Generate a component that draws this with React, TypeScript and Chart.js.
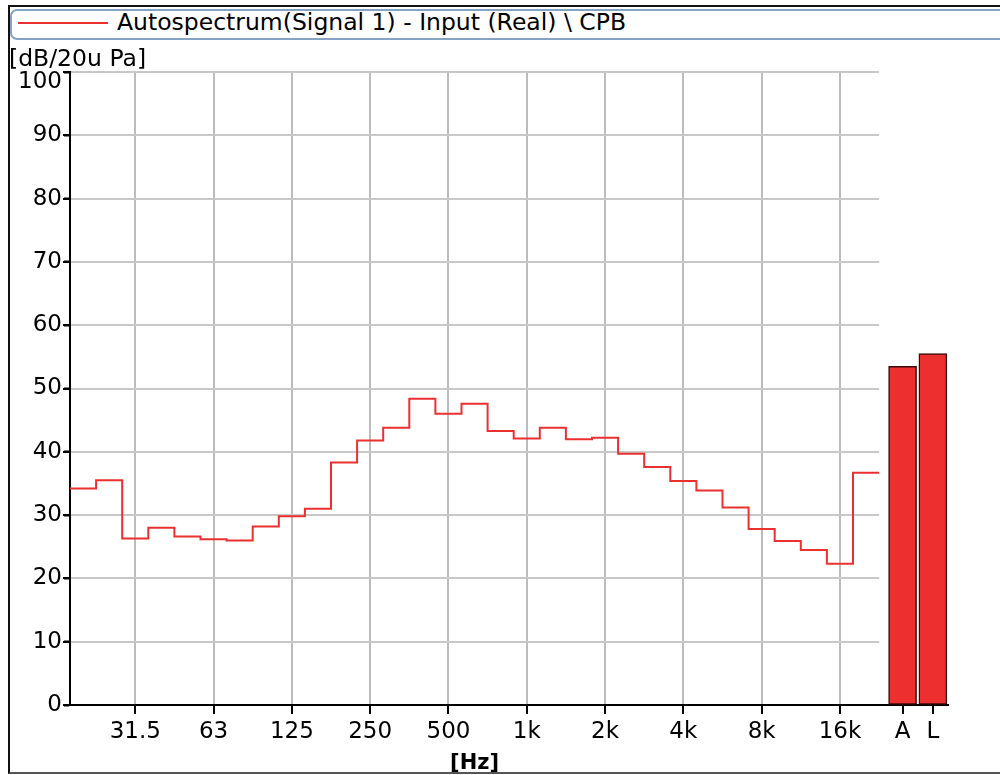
import React, { useEffect, useRef } from 'react';
import { Chart, registerables } from 'chart.js';

Chart.register(...registerables);

// 1/3-octave band centre frequencies (labels) and their levels [dB re 20 uPa]
const bandLabels = ['20', '25', '31.5', '40', '50', '63', '80', '100', '125', '160', '200', '250', '315', '400', '500', '630', '800', '1k', '1.25k', '1.6k', '2k', '2.5k', '3.15k', '4k', '5k', '6.3k', '8k', '10k', '12.5k', '16k', '20k'];
const bandLevels = [34.2, 35.5, 26.3, 28.0, 26.6, 26.2, 26.0, 28.2, 29.8, 31.0, 38.3, 41.8, 43.8, 48.4, 46.0, 47.6, 43.3, 42.1, 43.8, 42.0, 42.2, 39.7, 37.6, 35.4, 33.9, 31.2, 27.8, 25.9, 24.5, 22.3, 36.7];

// octave tick labels shown on the frequency axis
const tickLabels = ['31.5', '63', '125', '250', '500', '1k', '2k', '4k', '8k', '16k'];

// overall (summary) bars
const summaryLabels = ['A', 'L'];
const summaryLevels = [53.5, 55.5];

const yTickValues = [0, 10, 20, 30, 40, 50, 60, 70, 80, 90, 100];

const legendText = 'Autospectrum(Signal 1) - Input (Real) \\ CPB';
const yTitle = '[dB/20u Pa]';
const xTitle = '[Hz]';

const FONT = "'DejaVu Sans', Verdana, sans-serif";
const RED = '#ec3030';

export default function App() {
  const canvasRef = useRef<HTMLCanvasElement | null>(null);

  useEffect(() => {
    const canvas = canvasRef.current;
    if (!canvas) return;
    const nBands = bandLabels.length;
    const summaryStart = nBands + 0.9;
    const summaryStep = 1.16;
    const tickPositions = [
      ...tickLabels.map((l) => bandLabels.indexOf(l) + 0.5),
      ...summaryLabels.map((_, i) => summaryStart + i * summaryStep),
    ];
    const allTickLabels = [...tickLabels, ...summaryLabels];
    const yMax = yTickValues[yTickValues.length - 1];

    const stepPoints = bandLevels.map((v, i) => ({ x: i, y: v }));
    stepPoints.push({ x: nBands, y: bandLevels[nBands - 1] });

    const barPoints = summaryLevels.map((v, i) => ({ x: summaryStart + i * summaryStep, y: v }));

    const overlay = {
      id: 'overlay',
      beforeDatasetsDraw(chart: any) {
        const { ctx, scales } = chart;
        const xs = scales.x;
        const ys = scales.y;
        const x0 = xs.getPixelForValue(0) + 1;
        const x1 = xs.getPixelForValue(nBands);
        ctx.save();
        ctx.strokeStyle = '#c8c8c8';
        ctx.lineWidth = 2;
        yTickValues.forEach((v) => {
          if (v === 0) return;
          const y = Math.round(ys.getPixelForValue(v));
          ctx.beginPath();
          ctx.moveTo(x0, y);
          ctx.lineTo(x1, y);
          ctx.stroke();
        });
        ctx.restore();
      },
      afterDraw(chart: any) {
        const { ctx, scales, chartArea } = chart;
        const xs = scales.x;
        const ys = scales.y;
        ctx.save();
        // tick marks
        ctx.fillStyle = '#000';
        tickPositions.forEach((v) => {
          const px = Math.round(xs.getPixelForValue(v));
          ctx.fillRect(px - 1, chartArea.bottom, 2, 9);
        });
        yTickValues.forEach((v) => {
          const py = Math.round(ys.getPixelForValue(v));
          ctx.fillRect(chartArea.left - 7, py - 1, 7, 2);
        });
        // top tick label kept inside the plot height
        ctx.font = `23px ${FONT}`;
        ctx.textAlign = 'right';
        ctx.textBaseline = 'top';
        ctx.fillText(String(yMax), chartArea.left - 8, ys.getPixelForValue(yMax) - 1);
        // axis titles
        ctx.textBaseline = 'alphabetic';
        ctx.font = `23.5px ${FONT}`;
        ctx.textAlign = 'left';
        ctx.fillText(yTitle, 9, 66);
        ctx.font = `bold 21px ${FONT}`;
        ctx.textAlign = 'center';
        const cx = (xs.getPixelForValue(0) + xs.getPixelForValue(nBands)) / 2;
        ctx.fillText(xTitle, cx, 769);
        ctx.restore();
      },
    };

    const chart = new Chart(canvas, {
      type: 'bar',
      data: {
        datasets: [
          {
            type: 'line',
            label: legendText,
            data: stepPoints,
            stepped: true,
            borderColor: RED,
            borderWidth: 2,
            pointRadius: 0,
            fill: false,
          } as any,
          {
            type: 'bar',
            label: 'Overall',
            data: barPoints,
            backgroundColor: RED,
            borderColor: '#3a0a0a',
            borderWidth: 1.5,
            borderSkipped: false,
            barThickness: 28,
          } as any,
        ],
      },
      options: {
        responsive: false,
        animation: false,
        layout: { padding: { left: 8, right: 52, top: 72, bottom: 30 } },
        plugins: { legend: { display: false }, tooltip: { enabled: false } },
        scales: {
          x: {
            type: 'linear',
            min: 0,
            max: nBands + 2.64,
            offset: false,
            afterFit: (s: any) => { s.height = 40; },
            afterBuildTicks: (s: any) => { s.ticks = tickPositions.map((v) => ({ value: v })); },
            ticks: {
              autoSkip: false,
              maxRotation: 0,
              color: '#000',
              padding: 6,
              font: { family: FONT, size: 23 },
              callback: (_v: any, i: number) => allTickLabels[i],
            },
            grid: {
              offset: false,
              color: (c: any) => (c.index < tickLabels.length ? '#bcbcbc' : 'rgba(0,0,0,0)'),
              lineWidth: 2,
              drawTicks: true,
              tickColor: '#000',
              tickLength: 7,
              tickWidth: 2,
            },
            border: { display: true, color: '#000', width: 2 },
          },
          y: {
            type: 'linear',
            min: 0,
            max: yMax,
            afterFit: (s: any) => { s.width = 62; },
            afterBuildTicks: (s: any) => { s.ticks = yTickValues.map((v) => ({ value: v })); },
            ticks: {
              color: '#000',
              padding: 2,
              font: { family: FONT, size: 23 },
              callback: (v: any) => (v === yMax ? '' : String(v)),
            },
            grid: {
              offset: false,
              drawOnChartArea: false,
              tickLength: 6,
              tickColor: '#000',
              tickWidth: 2,
            },
            border: { display: true, color: '#000', width: 2 },
          },
        },
      },
      plugins: [overlay],
    });
    return () => chart.destroy();
  }, []);

  return (
    <div style={{ position: 'fixed', left: 0, top: 0, width: 1000, height: 775, overflow: 'hidden', background: '#fff' }}>
      <div
        style={{
          position: 'absolute', left: 8, top: 5, width: 1000, height: 769, boxSizing: 'border-box',
          borderLeft: '2px solid #111', borderTop: '2px solid #111', borderBottom: '2px solid #555',
        }}
      />
      <div
        style={{
          position: 'absolute', left: 10, top: 9, width: 1000, height: 31, boxSizing: 'border-box',
          border: '2px solid #86a3c3', borderRadius: 7, background: '#fff',
        }}
      />
      <div style={{ position: 'absolute', left: 18, top: 22, width: 90, height: 2, background: RED }} />
      <div
        style={{
          position: 'absolute', left: 117, top: 9, fontFamily: FONT, fontSize: 23.5, lineHeight: '27px',
          color: '#000', whiteSpace: 'nowrap',
        }}
      >
        {legendText}
      </div>
      <canvas ref={canvasRef} width={1000} height={775} style={{ position: 'absolute', left: 0, top: 0 }} />
    </div>
  );
}
